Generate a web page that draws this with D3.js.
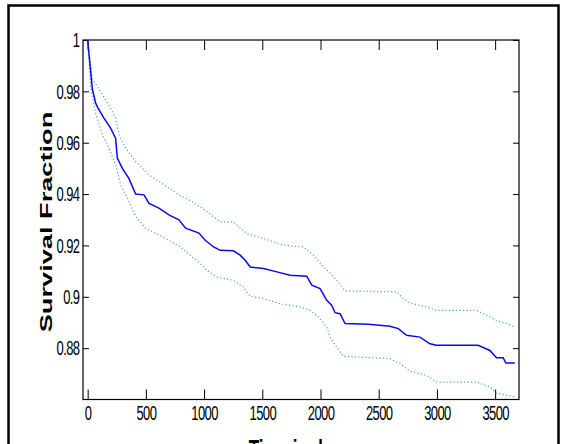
<!DOCTYPE html>
<html>
<head>
<meta charset="utf-8">
<script src="https://cdn.jsdelivr.net/npm/d3@7"></script>
<style>
  body { margin: 0; background: #fff; }
  svg { display: block; font-family: "Liberation Sans", Arial, sans-serif; }
</style>
</head>
<body>
<script>
const width = 564;
const height = 444;

// Kaplan-Meier estimate (time in days, survival fraction)
const kmTime = [0, 40, 69, 89, 140, 197, 240, 255, 298, 355, 412, 484, 527, 612, 698, 784, 841, 956,
  1010, 1082, 1138, 1252, 1310, 1353, 1396, 1510, 1625, 1739, 1882, 1925, 1996, 2054, 2096, 2125,
  2168, 2211, 2411, 2597, 2668, 2740, 2854, 2940, 2997, 3354, 3455, 3512, 3569, 3592, 3669];
const kmSurv = [1.0, 0.981, 0.9754, 0.9735, 0.9696, 0.9657, 0.9618, 0.954, 0.950, 0.946, 0.940, 0.9397,
  0.9364, 0.9345, 0.9319, 0.930, 0.9267, 0.9248, 0.922, 0.9194, 0.9181, 0.9179, 0.9162, 0.9142, 0.9116,
  0.911, 0.9097, 0.9084, 0.908, 0.9045, 0.9032, 0.8986, 0.8967, 0.8938, 0.8934, 0.8896, 0.8893, 0.8885,
  0.8876, 0.885, 0.8843, 0.8817, 0.8811, 0.8811, 0.8791, 0.8763, 0.8763, 0.8742, 0.8742];

// upper confidence bound
const upperTime = [0, 40, 126, 197, 240, 269, 326, 412, 527, 655, 784, 898, 967, 1041, 1082, 1138, 1252,
  1367, 1539, 1682, 1853, 1939, 2025, 2082, 2139, 2211, 2654, 2711, 2768, 2911, 2997, 3340, 3426, 3512,
  3598, 3669];
const upperSurv = [1.0, 0.985, 0.9787, 0.9735, 0.9696, 0.9631, 0.9579, 0.9527, 0.9475, 0.9436, 0.9397,
  0.9371, 0.935, 0.9326, 0.9311, 0.9292, 0.9292, 0.9246, 0.9223, 0.9201, 0.9194, 0.9162, 0.9116, 0.9093,
  0.9064, 0.9023, 0.9019, 0.8993, 0.8976, 0.896, 0.8947, 0.8947, 0.8928, 0.8908, 0.8895, 0.8882];

// lower confidence bound
const lowerTime = [0, 30, 69, 126, 183, 240, 283, 355, 412, 498, 612, 797, 967, 1024, 1110, 1252, 1338,
  1396, 1510, 1653, 1825, 1911, 1982, 2054, 2082, 2139, 2196, 2597, 2683, 2768, 2911, 2997, 3340, 3455,
  3512, 3669];
const lowerSurv = [1.0, 0.980, 0.9715, 0.9631, 0.9579, 0.9514, 0.9436, 0.9371, 0.9313, 0.9267, 0.9241,
  0.9194, 0.9129, 0.9103, 0.9077, 0.9064, 0.9038, 0.9002, 0.8993, 0.8973, 0.896, 0.8947, 0.8921, 0.8882,
  0.8843, 0.8804, 0.8768, 0.8759, 0.874, 0.871, 0.8694, 0.8668, 0.8668, 0.8649, 0.8625, 0.861];

const xTicks = [0, 500, 1000, 1500, 2000, 2500, 3000, 3500];
const yTicks = [0.88, 0.9, 0.92, 0.94, 0.96, 0.98, 1];
const yTickLabels = ["0.88", "0.9", "0.92", "0.94", "0.96", "0.98", "1"];

const svg = d3.select("body").append("svg")
    .attr("width", width)
    .attr("height", height);

// figure frame
svg.append("rect")
    .attr("x", 8.5).attr("y", 5.5)
    .attr("width", 550).attr("height", 470)
    .attr("fill", "#fff")
    .attr("stroke", "#000")
    .attr("stroke-width", 2.5);

const plotLeft = 83, plotRight = 519, plotTop = 40, plotBottom = 399.5;

const x = d3.scaleLinear().domain([-40, 3705]).range([plotLeft, plotRight]);
const y = d3.scaleLinear().domain([0.86, 1]).range([plotBottom, plotTop]);

// axes (MATLAB box style, ticks pointing inward)
const xAxis = svg.append("g")
    .attr("transform", `translate(0,${plotBottom})`)
    .call(d3.axisBottom(x).tickValues(xTicks).tickSizeInner(-10).tickSizeOuter(0)
        .tickFormat(d3.format("d")));
xAxis.selectAll("text")
    .attr("y", null).attr("dy", null)
    .attr("transform", "translate(0,20.5) scale(1,1.5)");

const yAxis = svg.append("g")
    .attr("transform", `translate(${plotLeft},0)`)
    .call(d3.axisLeft(y).tickValues(yTicks).tickSizeInner(-6).tickSizeOuter(0)
        .tickFormat((d, i) => yTickLabels[i]));
yAxis.selectAll("text")
    .attr("x", null).attr("dy", null)
    .attr("transform", "translate(-3.5,6.8) scale(1,1.5)");

svg.append("g")
    .attr("transform", `translate(0,${plotTop})`)
    .call(d3.axisTop(x).tickValues(xTicks).tickSizeInner(-10).tickSizeOuter(0).tickFormat(""));
svg.append("g")
    .attr("transform", `translate(${plotRight},0)`)
    .call(d3.axisRight(y).tickValues(yTicks).tickSizeInner(-6).tickSizeOuter(0).tickFormat(""));

svg.selectAll(".domain").remove();
svg.selectAll(".tick line").attr("stroke", "#000");
svg.selectAll(".tick text")
    .attr("fill", "#000")
    .style("font-size", "13px")
    .style("letter-spacing", "-0.6px");

svg.append("rect")
    .attr("x", plotLeft).attr("y", plotTop)
    .attr("width", plotRight - plotLeft).attr("height", plotBottom - plotTop)
    .attr("fill", "none")
    .attr("stroke", "#000")
    .attr("stroke-width", 1.2);

const line = d3.line().x(d => x(d[0])).y(d => y(d[1]));

svg.append("path")
    .datum(d3.zip(upperTime, upperSurv))
    .attr("d", line)
    .attr("fill", "none")
    .attr("stroke", "#4aa3cf")
    .attr("stroke-width", 1.2)
    .attr("stroke-dasharray", "1.2,2.3");

svg.append("path")
    .datum(d3.zip(lowerTime, lowerSurv))
    .attr("d", line)
    .attr("fill", "none")
    .attr("stroke", "#4aa3cf")
    .attr("stroke-width", 1.2)
    .attr("stroke-dasharray", "1.2,2.3");

svg.append("path")
    .datum(d3.zip(kmTime, kmSurv))
    .attr("d", line)
    .attr("fill", "none")
    .attr("stroke", "#0a0ae6")
    .attr("stroke-width", 1.5);

// axis titles
svg.append("text")
    .attr("transform", "translate(52,222) rotate(-90) scale(1.6,1)")
    .attr("text-anchor", "middle")
    .attr("fill", "#000")
    .style("font-weight", "bold")
    .style("font-size", "17px")
    .text("Survival Fraction");

svg.append("text")
    .attr("transform", "translate(300,459) scale(1,1.6)")
    .attr("text-anchor", "middle")
    .attr("fill", "#000")
    .style("font-weight", "bold")
    .style("font-size", "17px")
    .text("Time in days");
</script>
</body>
</html>
